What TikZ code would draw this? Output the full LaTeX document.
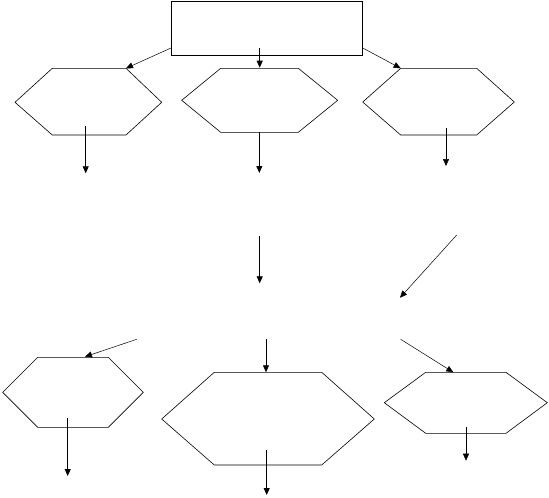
\documentclass[tikz,border=0pt]{standalone}
\usetikzlibrary{arrows.meta}
\tikzset{
  hexa/.style={draw, line width=0.6pt},
  flow/.style={line width=0.8pt, -{Triangle[length=7pt,width=6pt]}},
  thinflow/.style={line width=0.5pt, -{Triangle[length=7pt,width=6pt]}}
}
\begin{document}
\begin{tikzpicture}[x=1pt, y=-1pt]
				\useasboundingbox (0,0) rectangle (549,498);
				\node[draw, line width=0.8pt, inner sep=0pt, minimum width=191.7pt, minimum height=54.3pt] (head) at (266.85,28.15) {};
				% first row
				\draw[hexa] (15,102.3) -- (52.3,68.3) -- (126,68.3) -- (161.7,102.3) -- (126,135) -- (52.3,135) -- cycle;
				\draw[hexa] (181.7,100.3) -- (220.7,68.3) -- (298.3,68.3) -- (337.7,100.3) -- (298.3,132.3) -- (220.7,132.3) -- cycle;
				\draw[hexa] (362.7,102) -- (400.7,68.3) -- (476.7,68.3) -- (514.3,102) -- (476.7,135) -- (400.7,135) -- cycle;
				% second row
				\draw[hexa] (2.7,392.3) -- (37.7,357.3) -- (108.3,357.3) -- (143.3,392.3) -- (108.3,427.3) -- (37.7,427.3) -- cycle;
				\draw[hexa] (161.7,419) -- (214.3,372.3) -- (321.7,372.3) -- (374.3,419) -- (321.7,465) -- (214.3,465) -- cycle;
				\draw[hexa] (384.3,402.7) -- (425.7,372.3) -- (506,372.3) -- (547.3,402.7) -- (506,433.3) -- (425.7,433.3) -- cycle;
				\coordinate (h1s) at (171,48);     \coordinate (h1in) at (126,68.3);
				\coordinate (h2s) at (259.7,48);   \coordinate (h2in) at (259.7,67.7);
				\coordinate (h3s) at (362.7,48);   \coordinate (h3in) at (400.7,68.3);
				\coordinate (h1a) at (85.7,126);   \coordinate (h1b) at (85.7,173.3);
				\coordinate (h2a) at (259.3,132.3); \coordinate (h2b) at (259.3,173);
				\coordinate (h3a) at (446,128);    \coordinate (h3b) at (446,166);
				\coordinate (ma) at (259.7,235.7); \coordinate (mb) at (259.7,283.3);
				\coordinate (da) at (456.7,235);   \coordinate (db) at (400,297.7);
				\coordinate (h4s) at (136.7,339.3); \coordinate (h4in) at (85,356.7);
				\coordinate (h5s) at (266,339.3);   \coordinate (h5in) at (266,372.3);
				\coordinate (h6s) at (400.7,339.3); \coordinate (h6in) at (453.3,372.3);
				\coordinate (h4a) at (67.7,418.3); \coordinate (h4b) at (67.7,476);
				\coordinate (h5a) at (266.7,450);  \coordinate (h5b) at (266.7,495);
				\coordinate (h6a) at (466,426.7);  \coordinate (h6b) at (466,460.7);
				\draw[thinflow] (h1s) -- (h1in);
				\draw[flow] (h2s) -- (h2in);
				\draw[thinflow] (h3s) -- (h3in);
				\draw[flow] (h1a) -- (h1b);
				\draw[flow] (h2a) -- (h2b);
				\draw[thinflow] (h3a) -- (h3b);
				\draw[flow] (ma) -- (mb);
				\draw[thinflow] (da) -- (db);
				\draw[thinflow] (h4s) -- (h4in);
				\draw[flow] (h5s) -- (h5in);
				\draw[thinflow] (h6s) -- (h6in);
				\draw[flow] (h4a) -- (h4b);
				\draw[flow] (h5a) -- (h5b);
				\draw[thinflow] (h6a) -- (h6b);
			\end{tikzpicture}
\end{document}
